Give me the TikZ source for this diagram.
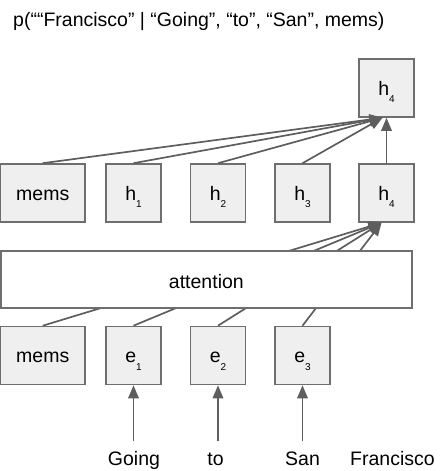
\documentclass[tikz,border=0pt]{standalone}
\usepackage{fontspec}
\setmainfont{Liberation Sans}
\usetikzlibrary{arrows.meta,calc}
\definecolor{linegray}{HTML}{5E5E5E}
\definecolor{boxborder}{HTML}{6E6E6E}
\definecolor{boxfill}{HTML}{EFEFEF}
\newcommand\subidx[1]{\raisebox{-7.7pt}[0pt][0pt]{\fontsize{10}{12}\selectfont #1}}
\tikzset{
  cellbox/.style={draw=boxborder, fill=boxfill, line width=1.6pt, minimum width=55pt, minimum height=58pt,
    inner sep=0pt, text height=14pt, text depth=0pt, font=\fontsize{19.5}{23}\selectfont},
  widebox/.style={cellbox, minimum width=84.5pt},
  attbox/.style={draw=boxborder, fill=white, line width=1.6pt, minimum width=411.25pt, minimum height=57pt,
    inner sep=0pt, text height=17pt, text depth=0pt, font=\fontsize{19.5}{23}\selectfont},
  word/.style={inner sep=0pt, outer ysep=10pt, text height=14pt, text depth=4pt, font=\fontsize{19.5}{23}\selectfont},
  conn/.style={draw=linegray, line width=1.7pt},
  arr/.style={conn, -{Triangle[length=13pt,width=10.5pt]}},
}
\begin{document}
\begin{tikzpicture}[x=1pt,y=-1pt]
\useasboundingbox (0,0) rectangle (439,471);
\node[anchor=base west, inner sep=0pt, font=\fontsize{19.5}{23}\selectfont] (title) at (13,26)
  {p(““Francisco” | “Going”, “to”, “San”, mems)};
% top output
\node[cellbox] (out) at (386.5,88) {h\subidx{4}};
% hidden row
\node[widebox] (hm) at (42.75,193) {mems};
\node[cellbox] (h1) at (133.5,193) {h\subidx{1}};
\node[cellbox] (h2) at (218,193) {h\subidx{2}};
\node[cellbox] (h3) at (302.5,193) {h\subidx{3}};
\node[cellbox] (h4) at (386.5,193) {h\subidx{4}};
% embedding row
\node[widebox] (em) at (42.75,355.5) {mems};
\node[cellbox] (e1) at (133.5,355.5) {e\subidx{1}};
\node[cellbox] (e2) at (218,355.5) {e\subidx{2}};
\node[cellbox] (e3) at (302.5,355.5) {e\subidx{3}};
% words
\node[word] (w1) at (134,465) [anchor=base] {Going};
\node[word] (w2) at (215.5,465) [anchor=base] {to};
\node[word] (w3) at (302.5,465) [anchor=base] {San};
\node[word] (w4) at (392.5,465) [anchor=base] {Francisco};
% word arrows
\draw[arr] (e1.south |- w1.north) -- (e1.south);
\draw[arr] (e2.south |- w2.north) -- (e2.south);
\draw[arr] (e3.south |- w3.north) -- (e3.south);
% attention lines (behind attention box)
\coordinate (t4) at ($(h4.south)+(-5,0)$);
\draw[arr] (em.north) -- (t4);
\draw[arr] (e1.north) -- (t4);
\draw[arr] (e2.north) -- (t4);
\draw[arr] (e3.north) -- (t4);
\node[attbox] (att) at (206.375,279.5) {attention};
% top level lines
\coordinate (to) at ($(out.south)+(-4,0)$);
\draw[arr] (hm.north) -- (to);
\draw[arr] (h1.north) -- (to);
\draw[arr] (h2.north) -- (to);
\draw[arr] (h3.north) -- (to);
\draw[arr] (h4.north) -- (out.south);
\end{tikzpicture}
\end{document}
